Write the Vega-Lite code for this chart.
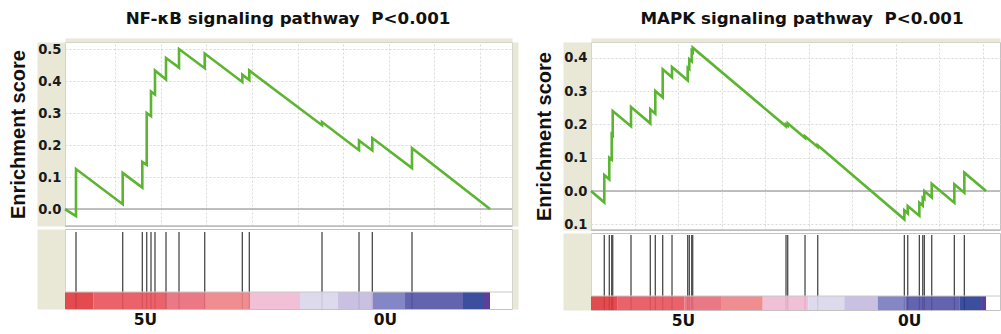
{
  "$schema": "https://vega.github.io/schema/vega-lite/v6.json",
  "background": "white",
  "padding": {"left": 8, "top": 10, "right": 0, "bottom": 0},
  "spacing": 18,
  "datasets": {
    "es1": [
      {"i": 0, "rank": 0, "es": 0.0},
      {"i": 1, "rank": 482, "es": -0.022},
      {"i": 2, "rank": 482, "es": 0.125},
      {"i": 3, "rank": 2530, "es": 0.015},
      {"i": 4, "rank": 2530, "es": 0.113},
      {"i": 5, "rank": 3390, "es": 0.067},
      {"i": 6, "rank": 3390, "es": 0.147},
      {"i": 7, "rank": 3583, "es": 0.138},
      {"i": 8, "rank": 3583, "es": 0.3},
      {"i": 9, "rank": 3771, "es": 0.29},
      {"i": 10, "rank": 3771, "es": 0.367},
      {"i": 11, "rank": 3946, "es": 0.358},
      {"i": 12, "rank": 3946, "es": 0.433},
      {"i": 13, "rank": 4429, "es": 0.405},
      {"i": 14, "rank": 4429, "es": 0.472},
      {"i": 15, "rank": 4999, "es": 0.442},
      {"i": 16, "rank": 4999, "es": 0.5},
      {"i": 17, "rank": 6126, "es": 0.44},
      {"i": 18, "rank": 6126, "es": 0.486},
      {"i": 19, "rank": 7775, "es": 0.397},
      {"i": 20, "rank": 7775, "es": 0.42},
      {"i": 21, "rank": 8082, "es": 0.403},
      {"i": 22, "rank": 8082, "es": 0.433},
      {"i": 23, "rank": 11269, "es": 0.262},
      {"i": 24, "rank": 11269, "es": 0.272},
      {"i": 25, "rank": 12892, "es": 0.184},
      {"i": 26, "rank": 12892, "es": 0.214},
      {"i": 27, "rank": 13475, "es": 0.183},
      {"i": 28, "rank": 13475, "es": 0.222},
      {"i": 29, "rank": 15215, "es": 0.128},
      {"i": 30, "rank": 15215, "es": 0.19},
      {"i": 31, "rank": 18636, "es": 0.0}
    ],
    "hits1": [
      {"rank": 482}, {"rank": 2530}, {"rank": 3390}, {"rank": 3583}, {"rank": 3771},
      {"rank": 3946}, {"rank": 4429}, {"rank": 4999}, {"rank": 6126}, {"rank": 7775},
      {"rank": 8082}, {"rank": 11269}, {"rank": 12892}, {"rank": 13475}, {"rank": 15215}
    ],
    "bar1": [
      {"seg": 1, "start": 0, "end": 1241},
      {"seg": 2, "start": 1241, "end": 4459},
      {"seg": 3, "start": 4459, "end": 6139},
      {"seg": 4, "start": 6139, "end": 8112},
      {"seg": 5, "start": 8112, "end": 10305},
      {"seg": 6, "start": 10305, "end": 11971},
      {"seg": 7, "start": 11971, "end": 13506},
      {"seg": 8, "start": 13506, "end": 14909},
      {"seg": 9, "start": 14909, "end": 17452},
      {"seg": 10, "start": 17452, "end": 18329},
      {"seg": 11, "start": 18329, "end": 18636}
    ],
    "es2": [
      {"i": 0, "rank": 0, "es": 0.0},
      {"i": 1, "rank": 611, "es": -0.034},
      {"i": 2, "rank": 611, "es": 0.048},
      {"i": 3, "rank": 841, "es": 0.035},
      {"i": 4, "rank": 841, "es": 0.1},
      {"i": 5, "rank": 952, "es": 0.094},
      {"i": 6, "rank": 952, "es": 0.17},
      {"i": 7, "rank": 998, "es": 0.167},
      {"i": 8, "rank": 998, "es": 0.24},
      {"i": 9, "rank": 1839, "es": 0.194},
      {"i": 10, "rank": 1839, "es": 0.252},
      {"i": 11, "rank": 2726, "es": 0.203},
      {"i": 12, "rank": 2726, "es": 0.245},
      {"i": 13, "rank": 2956, "es": 0.232},
      {"i": 14, "rank": 2956, "es": 0.3},
      {"i": 15, "rank": 3296, "es": 0.281},
      {"i": 16, "rank": 3296, "es": 0.365},
      {"i": 17, "rank": 3724, "es": 0.341},
      {"i": 18, "rank": 3724, "es": 0.372},
      {"i": 19, "rank": 4445, "es": 0.332},
      {"i": 20, "rank": 4445, "es": 0.37},
      {"i": 21, "rank": 4519, "es": 0.366},
      {"i": 22, "rank": 4519, "es": 0.395},
      {"i": 23, "rank": 4629, "es": 0.389},
      {"i": 24, "rank": 4629, "es": 0.42},
      {"i": 25, "rank": 4675, "es": 0.417},
      {"i": 26, "rank": 4675, "es": 0.43},
      {"i": 27, "rank": 8964, "es": 0.194},
      {"i": 28, "rank": 8964, "es": 0.2},
      {"i": 29, "rank": 9042, "es": 0.196},
      {"i": 30, "rank": 9042, "es": 0.203},
      {"i": 31, "rank": 9838, "es": 0.159},
      {"i": 32, "rank": 9838, "es": 0.164},
      {"i": 33, "rank": 10422, "es": 0.132},
      {"i": 34, "rank": 10422, "es": 0.137},
      {"i": 35, "rank": 14403, "es": -0.085},
      {"i": 36, "rank": 14403, "es": -0.058},
      {"i": 37, "rank": 14559, "es": -0.067},
      {"i": 38, "rank": 14559, "es": -0.045},
      {"i": 39, "rank": 15093, "es": -0.074},
      {"i": 40, "rank": 15093, "es": -0.035},
      {"i": 41, "rank": 15249, "es": -0.044},
      {"i": 42, "rank": 15249, "es": -0.02},
      {"i": 43, "rank": 15322, "es": -0.024},
      {"i": 44, "rank": 15322, "es": 0.0},
      {"i": 45, "rank": 15662, "es": -0.019},
      {"i": 46, "rank": 15662, "es": 0.022},
      {"i": 47, "rank": 16701, "es": -0.035},
      {"i": 48, "rank": 16701, "es": 0.02},
      {"i": 49, "rank": 17161, "es": -0.005},
      {"i": 50, "rank": 17161, "es": 0.055},
      {"i": 51, "rank": 18158, "es": 0.0}
    ],
    "hits2": [
      {"rank": 611}, {"rank": 841}, {"rank": 952}, {"rank": 998}, {"rank": 1839},
      {"rank": 2726}, {"rank": 2956}, {"rank": 3296}, {"rank": 3724}, {"rank": 4445},
      {"rank": 4519}, {"rank": 4629}, {"rank": 4675}, {"rank": 8964}, {"rank": 9042},
      {"rank": 9838}, {"rank": 10422}, {"rank": 14403}, {"rank": 14559}, {"rank": 15093},
      {"rank": 15249}, {"rank": 15322}, {"rank": 15662}, {"rank": 16701}, {"rank": 17161}
    ],
    "bar2": [
      {"seg": 1, "start": 0, "end": 1227},
      {"seg": 2, "start": 1227, "end": 4289},
      {"seg": 3, "start": 4289, "end": 5976},
      {"seg": 4, "start": 5976, "end": 7893},
      {"seg": 5, "start": 7893, "end": 9989},
      {"seg": 6, "start": 9989, "end": 11644},
      {"seg": 7, "start": 11644, "end": 13180},
      {"seg": 8, "start": 13180, "end": 14481},
      {"seg": 9, "start": 14481, "end": 16931},
      {"seg": 10, "start": 16931, "end": 17928},
      {"seg": 11, "start": 17928, "end": 18158}
    ]
  },
  "hconcat": [
    {
      "title": {"text": "NF-κB signaling pathway\u00a0 P<0.001", "anchor": "middle", "frame": "group", "fontSize": 16.7, "fontWeight": "bold", "font": "DejaVu Sans", "color": "#111111", "offset": 12, "dx": 223},
      "spacing": 0,
      "vconcat": [
        {
          "width": 447,
          "height": 184,
          "layer": [
            {
              "data": {"values": [{}]},
              "mark": {"type": "rule", "color": "#bdbdbd", "strokeWidth": 1.5},
              "encoding": {
                "x": {"datum": 0, "type": "quantitative"},
                "x2": {"datum": 19600},
                "y": {"datum": -0.053, "type": "quantitative",
                  "axis": {"orient": "left", "offset": 14, "domainWidth": 28, "domainColor": "#e9e7d6", "domainCap": "butt", "labels": false, "ticks": false, "values": [0, 0.1, 0.2, 0.3, 0.4, 0.5], "grid": true, "gridColor": "#d9d9d9", "gridDash": [2, 2], "gridWidth": 1, "title": null, "zindex": 0}}
              }
            },
            {
              "data": {"values": [{}]},
              "mark": {"type": "rule", "color": "#ababab", "strokeWidth": 1.6},
              "encoding": {
                "x": {"datum": 0, "type": "quantitative"},
                "x2": {"datum": 19600},
                "y": {"datum": 0, "type": "quantitative", "axis": {"orient": "right", "offset": 3, "domainWidth": 6, "domainColor": "#e9e7d6", "domainCap": "butt", "labels": false, "ticks": false, "grid": false, "title": null}}
              }
            },
            {
              "data": {"name": "es1"},
              "mark": {"type": "line", "color": "#5cb531", "strokeWidth": 2.6},
              "encoding": {
                "x": {"field": "rank", "type": "quantitative", "scale": {"domain": [0, 19600], "nice": false, "zero": false},
                  "axis": {"orient": "top", "values": [2200, 4200, 6200, 8200, 10200, 12200, 14200, 16200, 18200], "labels": false, "ticks": false, "grid": true, "gridColor": "#d9d9d9", "gridDash": [2, 2], "gridWidth": 1, "domainColor": "#e9e7d6", "domainWidth": 4, "domainCap": "butt", "offset": 2, "title": null}},
                "y": {"field": "es", "type": "quantitative", "scale": {"domain": [-0.053, 0.522], "nice": false, "zero": false},
                  "axis": {"orient": "left", "values": [0, 0.1, 0.2, 0.3, 0.4, 0.5], "format": ".1f", "offset": 0, "domain": false, "ticks": false, "grid": false, "labelPadding": 4, "labelFont": "DejaVu Sans", "labelFontWeight": "bold", "labelFontSize": 13.2, "labelColor": "#1a1a1a", "title": "Enrichment score", "titleFont": "Liberation Sans", "titleFontWeight": "bold", "titleFontSize": 20, "titleColor": "#111111", "titlePadding": 9, "zindex": 1}},
                "order": {"field": "i", "type": "quantitative"}
              }
            }
          ],
          "resolve": {"axis": {"y": "independent"}}
        },
        {
          "width": 447,
          "height": 80,
          "layer": [
            {
              "data": {"name": "hits1"},
              "mark": {"type": "rule", "color": "#4a4a4a", "strokeWidth": 1.3},
              "encoding": {
                "x": {"field": "rank", "type": "quantitative", "scale": {"domain": [0, 19600], "nice": false, "zero": false},
                  "axis": {"orient": "bottom", "values": [3508, 14032], "labelExpr": "datum.value < 9000 ? '5U' : '0U'", "domain": false, "ticks": false, "grid": false, "labelPadding": 3, "labelFont": "DejaVu Sans", "labelFontWeight": "bold", "labelFontSize": 15.5, "labelColor": "#111111", "title": null}},
                "y": {"datum": 0, "type": "quantitative", "scale": {"domain": [0, 80], "nice": false, "zero": false},
                  "axis": {"orient": "left", "offset": 14, "domainWidth": 28, "domainColor": "#e9e7d6", "domainCap": "butt", "labels": false, "ticks": false, "grid": false, "title": null}},
                "y2": {"datum": 77}
              }
            },
            {
              "data": {"name": "bar1"},
              "mark": {"type": "rect", "opacity": 0.9},
              "encoding": {
                "x": {"field": "start", "type": "quantitative", "title": null},
                "x2": {"field": "end"},
                "y": {"datum": 0, "type": "quantitative", "axis": {"orient": "right", "offset": 3, "domainWidth": 6, "domainColor": "#e9e7d6", "domainCap": "butt", "labels": false, "ticks": false, "grid": false, "title": null}},
                "y2": {"datum": 17},
                "color": {"field": "seg", "type": "nominal", "legend": null,
                  "scale": {"domain": [1, 2, 3, 4, 5, 6, 7, 8, 9, 10, 11], "range": ["#e0393b", "#e8525a", "#e86a78", "#ee8184", "#f0b9d3", "#d9d6ec", "#c4badf", "#7779bf", "#5352a6", "#273c95", "#4b2a8f"]}}
              }
            },
            {
              "data": {"values": [{}]},
              "mark": {"type": "rule", "color": "#c8c8c8", "strokeWidth": 1},
              "encoding": {"y": {"datum": 17, "type": "quantitative", "axis": null}}
            }
          ],
          "resolve": {"axis": {"y": "independent"}}
        }
      ]
    },
    {
      "title": {"text": "MAPK signaling pathway\u00a0 P<0.001", "anchor": "middle", "frame": "group", "fontSize": 16.7, "fontWeight": "bold", "font": "DejaVu Sans", "color": "#111111", "offset": 12, "dx": 211},
      "spacing": 0,
      "vconcat": [
        {
          "width": 409,
          "height": 188,
          "layer": [
            {
              "data": {"values": [{}]},
              "mark": {"type": "rule", "color": "#bdbdbd", "strokeWidth": 1.5},
              "encoding": {
                "x": {"datum": 0, "type": "quantitative"},
                "x2": {"datum": 18800},
                "y": {"datum": -0.117, "type": "quantitative",
                  "axis": {"orient": "left", "offset": 14, "domainWidth": 28, "domainColor": "#e9e7d6", "domainCap": "butt", "labels": false, "ticks": false, "values": [-0.1, 0, 0.1, 0.2, 0.3, 0.4], "grid": true, "gridColor": "#d9d9d9", "gridDash": [2, 2], "gridWidth": 1, "title": null, "zindex": 0}}
              }
            },
            {
              "data": {"values": [{}]},
              "mark": {"type": "rule", "color": "#ababab", "strokeWidth": 1.6},
              "encoding": {
                "x": {"datum": 0, "type": "quantitative"},
                "x2": {"datum": 18800},
                "y": {"datum": 0, "type": "quantitative", "axis": null}
              }
            },
            {
              "data": {"name": "es2"},
              "mark": {"type": "line", "color": "#5cb531", "strokeWidth": 2.6},
              "encoding": {
                "x": {"field": "rank", "type": "quantitative", "scale": {"domain": [0, 18800], "nice": false, "zero": false},
                  "axis": {"orient": "top", "values": [2000, 4000, 6000, 8000, 10000, 12000, 14000, 16000, 18000], "labels": false, "ticks": false, "grid": true, "gridColor": "#d9d9d9", "gridDash": [2, 2], "gridWidth": 1, "domainColor": "#e9e7d6", "domainWidth": 4, "domainCap": "butt", "offset": 2, "title": null}},
                "y": {"field": "es", "type": "quantitative", "scale": {"domain": [-0.117, 0.447], "nice": false, "zero": false},
                  "axis": {"orient": "left", "values": [-0.1, 0, 0.1, 0.2, 0.3, 0.4], "labelExpr": "format(abs(datum.value), '.1f')", "offset": 0, "domain": false, "ticks": false, "grid": false, "labelPadding": 4, "labelFont": "DejaVu Sans", "labelFontWeight": "bold", "labelFontSize": 13.2, "labelColor": "#1a1a1a", "title": "Enrichment score", "titleFont": "Liberation Sans", "titleFontWeight": "bold", "titleFontSize": 20, "titleColor": "#111111", "titlePadding": 9, "zindex": 1}},
                "order": {"field": "i", "type": "quantitative"}
              }
            }
          ],
          "resolve": {"axis": {"y": "independent"}}
        },
        {
          "width": 409,
          "height": 77,
          "layer": [
            {
              "data": {"name": "hits2"},
              "mark": {"type": "rule", "color": "#4a4a4a", "strokeWidth": 1.3},
              "encoding": {
                "x": {"field": "rank", "type": "quantitative", "scale": {"domain": [0, 18800], "nice": false, "zero": false},
                  "axis": {"orient": "bottom", "values": [4230, 14622], "labelExpr": "datum.value < 9000 ? '5U' : '0U'", "domain": false, "ticks": false, "grid": false, "labelPadding": 3, "labelFont": "DejaVu Sans", "labelFontWeight": "bold", "labelFontSize": 15.5, "labelColor": "#111111", "title": null}},
                "y": {"datum": 0, "type": "quantitative", "scale": {"domain": [0, 77], "nice": false, "zero": false},
                  "axis": {"orient": "left", "offset": 14, "domainWidth": 28, "domainColor": "#e9e7d6", "domainCap": "butt", "labels": false, "ticks": false, "grid": false, "title": null}},
                "y2": {"datum": 75}
              }
            },
            {
              "data": {"name": "bar2"},
              "mark": {"type": "rect", "opacity": 0.9},
              "encoding": {
                "x": {"field": "start", "type": "quantitative", "title": null},
                "x2": {"field": "end"},
                "y": {"datum": 0, "type": "quantitative", "axis": null},
                "y2": {"datum": 14},
                "color": {"field": "seg", "type": "nominal", "legend": null,
                  "scale": {"domain": [1, 2, 3, 4, 5, 6, 7, 8, 9, 10, 11], "range": ["#e0393b", "#e8525a", "#e86a78", "#ee8184", "#f0b9d3", "#d9d6ec", "#c4badf", "#7779bf", "#5352a6", "#273c95", "#4b2a8f"]}}
              }
            },
            {
              "data": {"values": [{}]},
              "mark": {"type": "rule", "color": "#c8c8c8", "strokeWidth": 1},
              "encoding": {"y": {"datum": 14, "type": "quantitative", "axis": null}}
            }
          ],
          "resolve": {"axis": {"y": "independent"}}
        }
      ]
    }
  ],
  "config": {
    "view": {"stroke": "#c2c2c2", "strokeWidth": 1},
    "font": "DejaVu Sans"
  }
}
